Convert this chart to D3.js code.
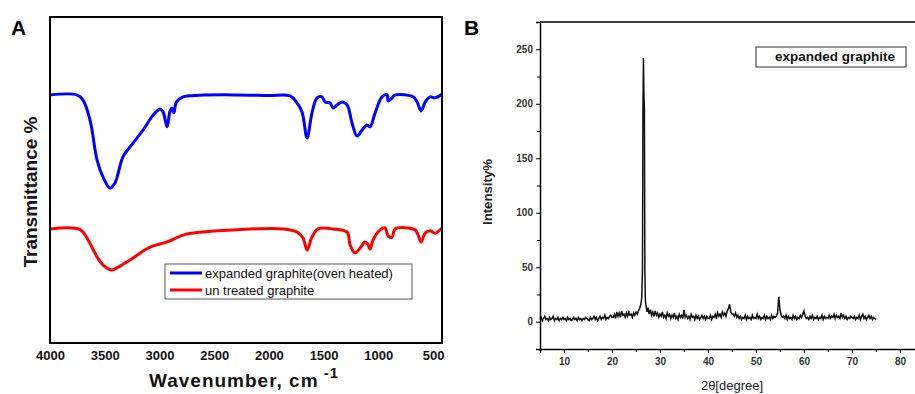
<!DOCTYPE html>
<html><head><meta charset="utf-8">
<script src="https://cdn.jsdelivr.net/npm/d3@7"></script>
<style>body{margin:0;background:#fff}svg{display:block}</style>
</head><body>
<svg id="c" width="915" height="394"></svg>
<script>
// ---- Panel A: FTIR data ----
const ftirWavenumbers = [4000,3753,3698,3634,3570,3515,3452,3406,3333,3241,3150,3058,2995,2967,2930,2905,2885,2868,2845,2784,2630,2300,2000,1806,1742,1697,1651,1606,1560,1514,1486,1440,1413,1377,1331,1285,1240,1194,1148,1103,1075,1029,966,920,910,874,846,682,645,609,572,526,481,418];
const expandedT = [76.1,76.1,74.5,68.4,56.1,50.9,47.5,49.1,57.1,61.3,65.3,69.9,71.8,70.9,66.3,70.9,72.1,70.6,73.9,75.5,76.0,76.1,75.9,75.8,73.6,70.9,62.9,70.6,75.2,75.5,73.9,73.6,72.1,73.0,73.9,73.0,67.5,63.5,65.3,66.9,66.3,70.6,75.5,76.1,74.2,75.2,76.1,75.5,73.9,71.2,73.9,75.5,75.2,76.4];
const untreatedWavenumbers = [4000,3726,3652,3570,3515,3433,3360,3241,3086,2930,2784,2630,2325,1870,1742,1688,1651,1606,1550,1413,1285,1258,1212,1167,1121,1093,1075,1048,984,938,910,874,846,664,636,609,572,526,481,418];
const untreatedT = [35.0,34.8,31.6,26.4,23.9,22.4,23.6,26.1,29.4,31.0,33.1,34.0,34.7,35.0,34.0,32.2,28.5,32.5,35.0,35.0,34.0,30.1,27.6,29.1,31.0,30.1,28.8,31.6,34.7,35.3,32.8,32.5,35.0,34.7,33.1,31.0,33.7,34.4,33.7,35.3];
const ftirTicks = [4000,3500,3000,2500,2000,1500,1000,500];
const ftirLegend = ["expanded graphite(oven heated)","un treated graphite"];

// ---- Panel B: XRD data ----
const xrdAngle = [
 5,5.25,5.5,5.75,6,6.25,6.5,6.75,7,7.25,7.5,7.75,8,8.25,8.5,8.75,9,9.25,9.5,9.75,10,
 10.25,10.5,10.75,11,11.25,11.5,11.75,12,12.25,12.5,12.75,13,13.25,13.5,13.75,14,14.25,14.5,14.75,15,
 15.25,15.5,15.75,16,16.25,16.5,16.75,17,17.25,17.5,17.75,18,18.25,18.5,18.75,19,19.25,19.5,19.75,20,
 20.25,20.5,20.75,21,21.25,21.5,21.75,22,22.25,22.5,22.75,23,23.25,23.5,23.75,24,24.25,24.5,24.75,25,25.25,25.5,
 25.75,26,26.2,26.35,26.45,26.55,26.65,26.75,26.85,26.95,27.1,27.3,27.5,
 27.75,28,28.25,28.5,28.75,29,29.25,29.5,29.75,30,
 30.25,30.5,30.75,31,31.25,31.5,31.75,32,32.25,32.5,32.75,33,33.25,33.5,33.75,34,34.25,34.5,34.75,35,
 35.25,35.5,35.75,36,36.25,36.5,36.75,37,37.25,37.5,37.75,38,38.25,38.5,38.75,39,39.25,39.5,39.75,40,
 40.25,40.5,40.75,41,41.25,41.5,41.75,42,42.25,42.5,42.75,43,43.25,43.5,43.75,44,44.25,44.5,44.75,45,
 45.25,45.5,45.75,46,46.25,46.5,46.75,47,47.25,47.5,47.75,48,48.25,48.5,48.75,49,49.25,49.5,49.75,50,
 50.25,50.5,50.75,51,51.25,51.5,51.75,52,52.25,52.5,52.75,53,53.25,53.5,53.75,54,54.25,54.5,54.75,55,
 55.25,55.5,55.75,56,56.25,56.5,56.75,57,57.25,57.5,57.75,58,58.25,58.5,58.75,59,59.25,59.5,59.75,60,
 60.25,60.5,60.75,61,61.25,61.5,61.75,62,62.25,62.5,62.75,63,63.25,63.5,63.75,64,64.25,64.5,64.75,65,
 65.25,65.5,65.75,66,66.25,66.5,66.75,67,67.25,67.5,67.75,68,68.25,68.5,68.75,69,69.25,69.5,69.75,70,
 70.25,70.5,70.75,71,71.25,71.5,71.75,72,72.25,72.5,72.75,73,73.25,73.5,73.75,74,74.25,74.5,74.75,75];
const xrdIntensity = [
 2,4,1,3,5,2,3,1,4,2,3,5,1,3,2,4,1,3,2,4,2,
 3,1,4,2,3,1,2,4,2,3,1,4,2,3,1,3,2,4,3,2,
 1,4,2,3,5,2,4,1,3,5,2,4,3,6,2,4,3,5,6,4,
 4,7,3,9,5,8,4,10,6,7,4,8,5,9,6,7,4,8,6,9,7,10,
 12,16,22,48,195,242,209,195,45,20,14,9,13,
 7,11,6,9,5,10,6,8,4,7,
 5,9,4,6,3,8,5,7,3,6,4,8,3,5,2,7,4,6,3,11,
 4,6,3,5,2,7,4,5,2,6,3,5,2,4,6,3,5,2,5,3,
 3,6,2,5,4,7,3,8,5,7,4,9,6,8,5,10,12,16,9,7,
 7,5,8,4,6,3,5,2,4,3,6,2,5,3,4,2,6,3,4,3,
 7,3,5,2,4,3,6,2,5,3,4,2,6,3,5,4,5,8,23,11,
 6,4,5,3,6,2,5,3,4,2,6,3,5,2,4,3,6,4,7,10,
 5,3,4,2,5,3,6,2,4,3,5,2,4,3,6,2,5,3,4,3,
 6,3,5,4,7,3,6,4,5,3,8,4,6,3,5,2,4,3,5,4,
 3,5,2,4,3,6,2,5,7,3,5,2,4,6,3,5,2,4,3,2];
const xrdXTicks = [10,20,30,40,50,60,70,80];
const xrdYTicks = [0,50,100,150,200,250];
const xrdLegend = "expanded graphite";

const svg = d3.select("#c");
svg.append("rect").attr("width",915).attr("height",394).attr("fill","#fff");
const font = "Arial, 'Liberation Sans', sans-serif";

// ===== Panel A =====
const xA = d3.scaleLinear().domain([4000,418]).range([50,442]);
const yA = d3.scaleLinear().domain([0,100]).range([343,17]);
const gA = svg.append("g");
const lineA = d3.line().x(d=>xA(d[0])).y(d=>yA(d[1])).curve(d3.curveCatmullRom.alpha(0.5));

gA.append("path").datum(d3.zip(ftirWavenumbers,expandedT)).attr("d", lineA)
  .attr("fill","none").attr("stroke","#0000ff").attr("stroke-width",3).attr("stroke-linejoin","round");
gA.append("path").datum(d3.zip(untreatedWavenumbers,untreatedT)).attr("d", lineA)
  .attr("fill","none").attr("stroke","#ff0000").attr("stroke-width",3).attr("stroke-linejoin","round");

gA.append("rect").attr("x",xA(4000)).attr("y",yA(100)).attr("width",xA(418)-xA(4000)).attr("height",yA(0)-yA(100))
  .attr("fill","none").attr("stroke","#000").attr("stroke-width",2);

const axA = gA.append("g").attr("transform",`translate(0,${yA(0)})`)
  .call(d3.axisBottom(xA).tickValues(ftirTicks).tickFormat(d3.format("d")).tickSize(0).tickPadding(8));
axA.select(".domain").remove();
axA.selectAll("text").attr("font-family",font).attr("font-size",13).attr("font-weight","bold").attr("fill","#111");

const xlab = gA.append("text").attr("x",244).attr("y",387).attr("text-anchor","middle")
  .attr("font-family",font).attr("font-size",19).attr("font-weight","bold").attr("fill","#111")
  .attr("letter-spacing",1);
xlab.append("tspan").text("Wavenumber, cm");
xlab.append("tspan").attr("dy",-9).attr("font-size",15).text(" -1");

gA.append("text").attr("transform","translate(37,192) rotate(-90)").attr("text-anchor","middle")
  .attr("font-family",font).attr("font-size",19).attr("font-weight","bold").attr("fill","#111")
  .text("Transmittance %");

gA.append("text").attr("x",11).attr("y",35).attr("font-family",font)
  .attr("font-size",21).attr("font-weight","bold").text("A");

// legend A
const legA = gA.append("g");
legA.append("rect").attr("x",165).attr("y",264).attr("width",247).attr("height",35)
  .attr("fill","#fff").attr("stroke","#555").attr("stroke-width",1);
const legColors = ["#0000ff","#ff0000"];
ftirLegend.forEach((t,i)=>{
  const yy = 273 + i*17;
  legA.append("line").attr("x1",170).attr("x2",202).attr("y1",yy).attr("y2",yy).attr("stroke",legColors[i]).attr("stroke-width",3);
  legA.append("text").attr("x",205).attr("y",yy+4.5).attr("font-family",font)
    .attr("font-size",13).attr("fill","#111").text(t);
});

// ===== Panel B =====
const xB = d3.scaleLinear().domain([5,85]).range([540,924]);
const yB = d3.scaleLinear().domain([-25,275]).range([349,22]);
const gB = svg.append("g");

gB.append("path").datum(d3.zip(xrdAngle,xrdIntensity))
  .attr("d", d3.line().x(d=>xB(d[0])).y(d=>yB(d[1])))
  .attr("fill","none").attr("stroke","#111").attr("stroke-width",1.5).attr("stroke-linejoin","miter");

gB.append("line").attr("x1",xB(5)).attr("x2",xB(85)).attr("y1",yB(275)).attr("y2",yB(275)).attr("stroke","#000").attr("stroke-width",1.5);

// y axis
const yAxB = gB.append("g").attr("transform",`translate(${xB(5)},0)`)
  .call(d3.axisLeft(yB).tickValues(xrdYTicks).tickSize(4).tickPadding(3));
yAxB.select(".domain").attr("stroke-width",1.5);
yAxB.selectAll("text").attr("font-family",font).attr("font-size",10).attr("font-weight","bold").attr("fill","#333");
gB.append("g").attr("transform",`translate(${xB(5)},0)`)
  .call(d3.axisLeft(yB).tickValues([25,75,125,175,225]).tickSize(3).tickFormat(""))
  .select(".domain").remove();

// x axis
const xAxB = gB.append("g").attr("transform",`translate(0,${yB(-25)})`)
  .call(d3.axisBottom(xB).tickValues(xrdXTicks).tickSize(4).tickPadding(5));
xAxB.select(".domain").attr("stroke-width",1.5);
xAxB.selectAll("text").attr("font-family",font).attr("font-size",10).attr("font-weight","bold").attr("fill","#333");
gB.append("g").attr("transform",`translate(0,${yB(-25)})`)
  .call(d3.axisBottom(xB).tickValues([5,15,25,35,45,55,65,75]).tickSize(3).tickFormat(""))
  .select(".domain").remove();

gB.append("text").attr("x",732).attr("y",390).attr("text-anchor","middle").attr("font-family",font)
  .attr("font-size",13).attr("fill","#222").text("2θ[degree]");
gB.append("text").attr("transform","translate(492,192) rotate(-90)").attr("text-anchor","middle")
  .attr("font-family",font).attr("font-size",12).attr("font-weight","bold").attr("fill","#222")
  .attr("textLength",66).attr("lengthAdjust","spacingAndGlyphs").text("Intensity%");

gB.append("text").attr("x",464).attr("y",35).attr("font-family",font)
  .attr("font-size",21).attr("font-weight","bold").text("B");

gB.append("rect").attr("x",756).attr("y",47).attr("width",150).attr("height",20)
  .attr("fill","#fff").attr("stroke","#333").attr("stroke-width",1);
gB.append("text").attr("x",775).attr("y",61).attr("font-family",font).attr("font-size",13).attr("font-weight","bold")
  .attr("fill","#111").attr("textLength",120).attr("lengthAdjust","spacingAndGlyphs").text(xrdLegend);
</script>
</body></html>
